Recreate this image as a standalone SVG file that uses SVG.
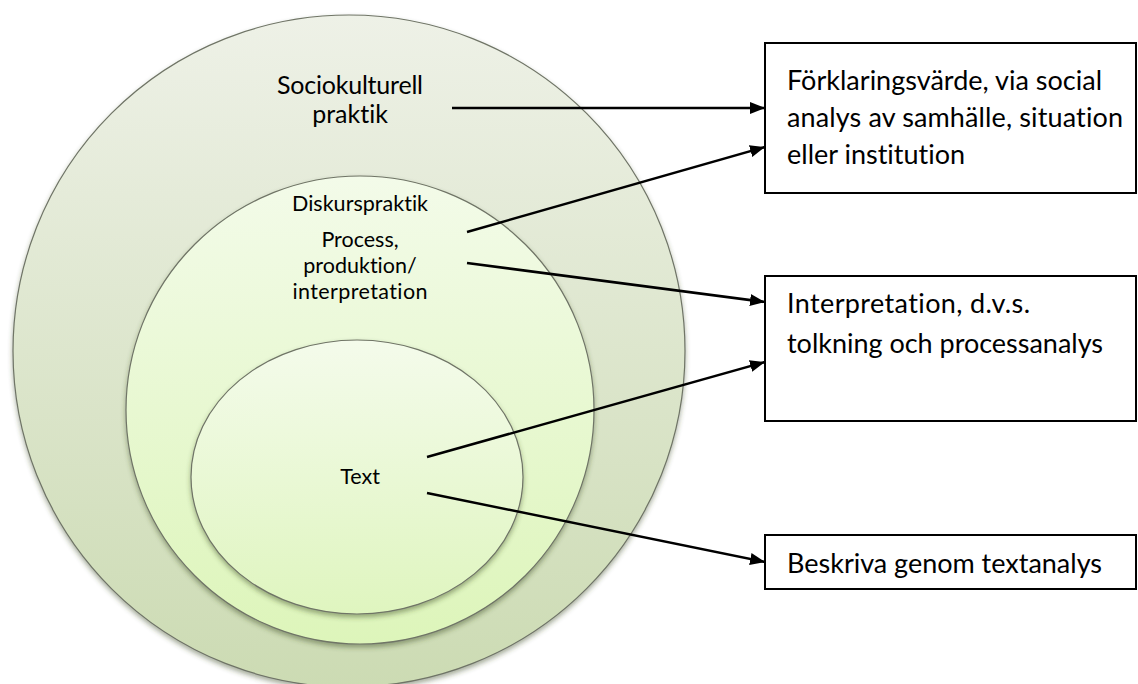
<svg xmlns="http://www.w3.org/2000/svg" width="1138" height="684" viewBox="0 0 1138 684">
  <style>
    .lbl { font-family: Lato, "Open Sans", sans-serif; fill: #000; font-variant-ligatures: none; font-feature-settings: "liga" 0, "clig" 0; }
    .ring { stroke: #6f7466; stroke-width: 1.2; filter: url(#shadow); }
    .box { fill: #fff; stroke: #000; stroke-width: 2; }
    .conn { stroke: #000; stroke-width: 2.5; fill: none; marker-end: url(#arrow); }
  </style>
  <defs>
    <linearGradient id="gOuter" x1="0" y1="0" x2="0" y2="1">
      <stop offset="0" stop-color="#eef1e7"/>
      <stop offset="1" stop-color="#ccdbb3"/>
    </linearGradient>
    <linearGradient id="gMid" x1="0" y1="0" x2="0" y2="1">
      <stop offset="0" stop-color="#f3fbe9"/>
      <stop offset="1" stop-color="#ddf5ba"/>
    </linearGradient>
    <linearGradient id="gInner" x1="0" y1="0" x2="0" y2="1">
      <stop offset="0" stop-color="#f4fbeb"/>
      <stop offset="1" stop-color="#dff5bf"/>
    </linearGradient>
    <filter id="shadow" x="-10%" y="-10%" width="120%" height="125%">
      <feDropShadow dx="0" dy="3" stdDeviation="2.5" flood-color="#3e4a28" flood-opacity="0.45"/>
    </filter>
    <marker id="arrow" markerUnits="userSpaceOnUse" markerWidth="16" markerHeight="14" refX="15" refY="6" orient="auto">
      <path d="M0,0 L15,6 L0,12 Z" fill="#000"/>
    </marker>
  </defs>

  <g id="sociokulturell">
    <circle class="ring" cx="349" cy="351" r="336" fill="url(#gOuter)"/>
    <text class="lbl" font-size="25" text-anchor="middle" x="350" y="94" textLength="146">Sociokulturell</text>
    <text class="lbl" font-size="25" text-anchor="middle" x="350" y="123">praktik</text>
  </g>

  <g id="diskurspraktik">
    <circle class="ring" cx="360" cy="410" r="234" fill="url(#gMid)"/>
    <text class="lbl" font-size="21.5" text-anchor="middle" x="360" y="211" textLength="136">Diskurspraktik</text>
    <text class="lbl" font-size="21.5" text-anchor="middle" x="360" y="247">Process,</text>
    <text class="lbl" font-size="21.5" text-anchor="middle" x="360" y="273">produktion/</text>
    <text class="lbl" font-size="21.5" text-anchor="middle" x="360" y="299" textLength="135">interpretation</text>
  </g>

  <g id="text">
    <ellipse class="ring" cx="357" cy="477" rx="166" ry="137" fill="url(#gInner)"/>
    <text class="lbl" font-size="21.5" text-anchor="middle" x="360" y="484">Text</text>
  </g>

  <g id="forklaring">
    <rect class="box" x="765" y="43" width="371" height="150"/>
    <text class="lbl" font-size="27" x="787" y="90" textLength="315">Förklaringsvärde, via social</text>
    <text class="lbl" font-size="27" x="787" y="127" textLength="336">analys av samhälle, situation</text>
    <text class="lbl" font-size="27" x="787" y="164">eller institution</text>
  </g>

  <g id="interpretation">
    <rect class="box" x="765" y="276" width="371" height="145"/>
    <text class="lbl" font-size="27" x="787" y="313" textLength="243">Interpretation, d.v.s.</text>
    <text class="lbl" font-size="27" x="787" y="353" textLength="316">tolkning och processanalys</text>
  </g>

  <g id="beskriva">
    <rect class="box" x="765" y="535" width="371" height="54"/>
    <text class="lbl" font-size="27" x="787" y="573" textLength="315">Beskriva genom textanalys</text>
  </g>

  <g id="connectors">
    <line class="conn" x1="452" y1="108" x2="765" y2="108"/>
    <line class="conn" x1="467" y1="232" x2="765" y2="147"/>
    <line class="conn" x1="467" y1="263" x2="765" y2="302"/>
    <line class="conn" x1="427" y1="457" x2="765" y2="362"/>
    <line class="conn" x1="427" y1="493" x2="765" y2="562"/>
  </g>
</svg>
